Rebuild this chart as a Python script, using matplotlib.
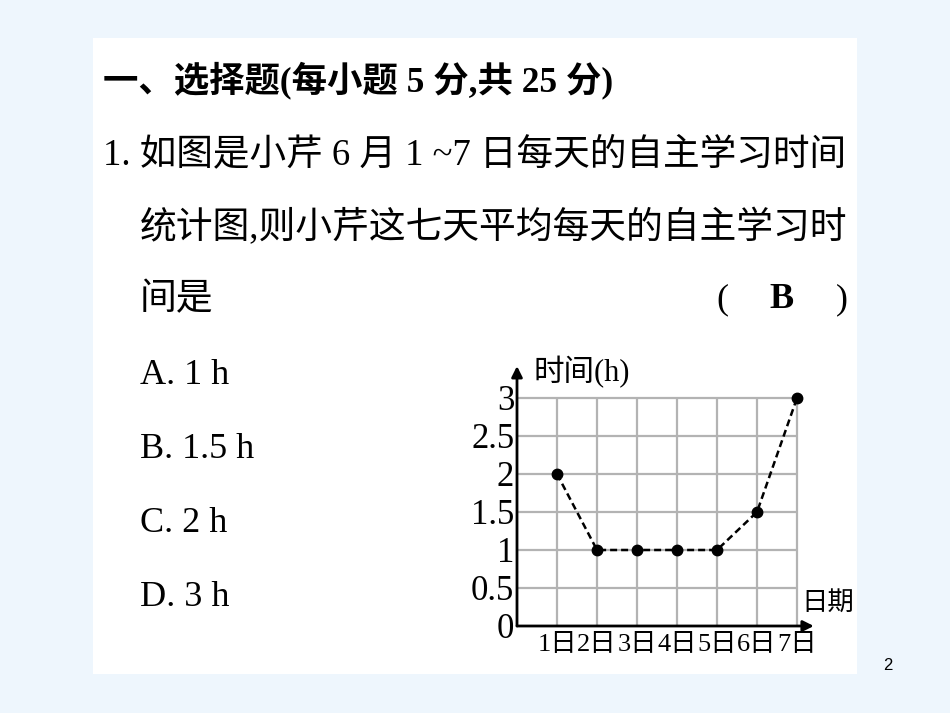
import matplotlib
matplotlib.use('Agg')
import matplotlib.pyplot as plt
from matplotlib.patches import Rectangle

# chart data
days = [1, 2, 3, 4, 5, 6, 7]
day_labels = ['1日', '2日', '3日', '4日', '5日', '6日', '7日']
hours = [2, 1, 1, 1, 1, 1.5, 3]
y_ticks = [0, 0.5, 1, 1.5, 2, 2.5, 3]
y_labels = ['0', '0.5', '1', '1.5', '2', '2.5', '3']

# slide text
title = '一、选择题(每小题 5 分,共 25 分)'
question = ['1. 如图是小芹 6 月 1 ~7 日每天的自主学习时间',
            '统计图,则小芹这七天平均每天的自主学习时',
            '间是']
options = ['A. 1 h', 'B. 1.5 h', 'C. 2 h', 'D. 3 h']

W, H = 950, 713
FAM = ['Liberation Serif', 'Noto Sans CJK SC']


def fx(px):
    return px / W


def fy(py):
    return 1 - py / H


fig = plt.figure(figsize=(W / 100, H / 100), dpi=100)
fig.patch.set_facecolor('#eef6fd')
fig.patches.append(Rectangle((fx(93), fy(674)), fx(857 - 93), (674 - 38) / H,
                             transform=fig.transFigure, facecolor='white',
                             edgecolor='none', zorder=-1))

fig.text(fx(103), fy(80), title, fontsize=25.5, fontweight='bold',
         family=FAM, va='center')
fig.text(fx(103), fy(155), question[0], fontsize=26.4, family=FAM, va='center')
fig.text(fx(140), fy(228), question[1], fontsize=26.5, family=FAM, va='center')
fig.text(fx(140), fy(300), question[2], fontsize=26.5, family=FAM, va='center')
fig.text(fx(722), fy(300), '(', fontsize=26, family=FAM, va='center',
         ha='center')
fig.text(fx(781), fy(300), 'B', fontsize=26, family=FAM, fontweight='bold',
         va='center', ha='center')
fig.text(fx(842), fy(300), ')', fontsize=26, family=FAM, va='center',
         ha='center')
for i, opt in enumerate(options):
    fig.text(fx(140), fy(376 + 74 * i), opt, fontsize=26, family=FAM,
             va='center')
fig.text(fx(888), fy(666), '2', fontsize=12, family='Liberation Sans',
         va='center', ha='center')

# chart
ax = fig.add_axes([fx(517), fy(626), 300 / W, 262.2 / H])
ax.set_xlim(0, 7.5)
ax.set_ylim(0, 3.45)
ax.patch.set_alpha(0)
for s in ax.spines.values():
    s.set_visible(False)

ax.hlines(y_ticks[1:], 0, 7, colors='#b3b3b3', lw=1.6, zorder=1)
ax.vlines(days, 0, 3, colors='#b3b3b3', lw=1.6, zorder=1)

ax.plot(days, hours, color='black', ls=(0, (2.8, 1.6)), lw=1.8, zorder=3,
        marker='o', markersize=7.5)

arrow = dict(arrowstyle='-|>', lw=2, color='black', mutation_scale=16,
             shrinkA=0, shrinkB=0)
ax.annotate('', xy=(7.42, 0), xytext=(0, 0), arrowprops=arrow,
            annotation_clip=False)
ax.annotate('', xy=(0, 3.42), xytext=(0, 0), arrowprops=arrow,
            annotation_clip=False)

ax.set_xticks(days)
ax.set_xticklabels(day_labels, family=FAM, fontsize=19)
ax.set_yticks(y_ticks)
ax.set_yticklabels(y_labels, family=FAM, fontsize=25)
ax.tick_params(axis='x', length=0, pad=6)
ax.tick_params(axis='y', length=0, pad=2)

ax.text(0.4, 3.34, '时间(h)', family=FAM, fontsize=22, va='center',
        ha='left')
ax.text(7.12, 0.30, '日期', family=FAM, fontsize=19, va='center', ha='left')

fig.savefig('out.png', dpi=100, facecolor=fig.get_facecolor())
